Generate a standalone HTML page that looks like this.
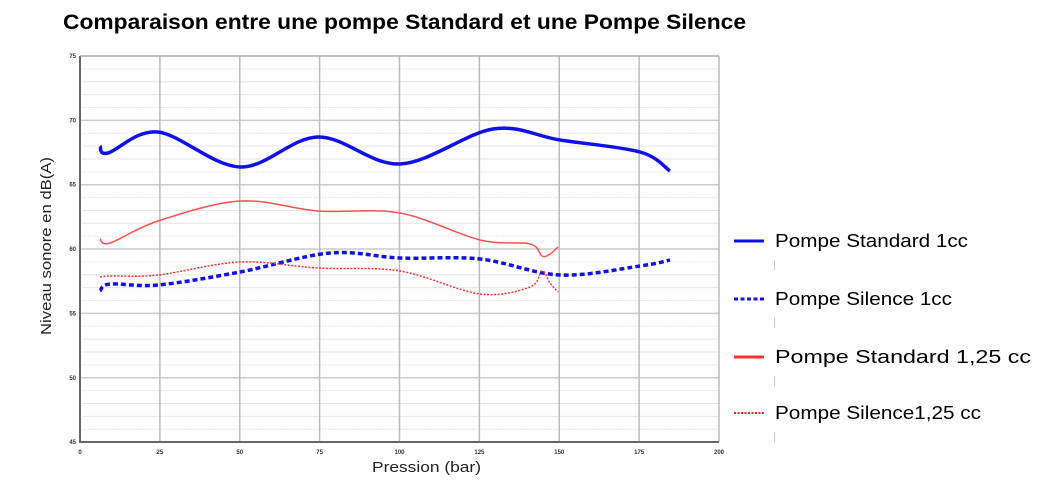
<!DOCTYPE html>
<html><head><meta charset="utf-8"><style>
body{margin:0;background:#fff;width:1054px;height:486px;overflow:hidden}
svg{display:block}
text{font-family:"Liberation Sans",sans-serif}
</style></head><body>
<svg id="s" width="1054" height="486" xmlns="http://www.w3.org/2000/svg">
<text x="63" y="29" font-size="21" font-weight="bold" fill="#000" textLength="683" lengthAdjust="spacingAndGlyphs">Comparaison entre une pompe Standard et une Pompe Silence</text>
<g id="grid"></g>
<line x1="80" y1="56" x2="80" y2="443" stroke="#666" stroke-width="2"/>
<line x1="79" y1="442" x2="719" y2="442" stroke="#666" stroke-width="2"/>
<line x1="80" y1="56" x2="719" y2="56" stroke="#999" stroke-width="1"/>
<line x1="719" y1="56" x2="719" y2="442" stroke="#999" stroke-width="1"/>
<g id="lines"></g>
<text x="372" y="472" font-size="15" fill="#222" textLength="109" lengthAdjust="spacingAndGlyphs">Pression (bar)</text>
<text transform="translate(51,335) rotate(-90)" font-size="15" fill="#222" textLength="178" lengthAdjust="spacingAndGlyphs">Niveau sonore en dB(A)</text>
<g font-size="18" fill="#000">
<line x1="734" y1="241" x2="764" y2="241" stroke="#1010ee" stroke-width="3"/>
<text x="775" y="247" textLength="193" lengthAdjust="spacingAndGlyphs">Pompe Standard 1cc</text>
<line x1="734" y1="299" x2="764" y2="299" stroke="#1010ee" stroke-width="3" stroke-dasharray="4,2.5"/>
<text x="775" y="305" textLength="177" lengthAdjust="spacingAndGlyphs">Pompe Silence 1cc</text>
<line x1="734" y1="357" x2="764" y2="357" stroke="#ff3030" stroke-width="3"/>
<text x="775" y="363" textLength="256" lengthAdjust="spacingAndGlyphs">Pompe Standard 1,25 cc</text>
<line x1="734" y1="413" x2="764" y2="413" stroke="#ff2020" stroke-width="2" stroke-dasharray="2,1.5"/>
<text x="775" y="419" textLength="206" lengthAdjust="spacingAndGlyphs">Pompe Silence1,25 cc</text>
</g>
<g stroke="#ccc" stroke-width="1">
<line x1="774.5" y1="260" x2="774.5" y2="270"/><line x1="774.5" y1="318" x2="774.5" y2="328"/>
<line x1="774.5" y1="376" x2="774.5" y2="386"/><line x1="774.5" y1="432" x2="774.5" y2="442"/>
</g>
</svg>
<script>
var NS="http://www.w3.org/2000/svg",g=document.getElementById('grid'),L=document.getElementById('lines');
function el(p,t,a){var e=document.createElementNS(NS,t);for(var k in a)e.setAttribute(k,a[k]);p.appendChild(e);return e;}
for(var v=45;v<=75;v++){var y=56+(75-v)*12.87;
 if(v%5==0){el(g,'line',{x1:80,x2:719,y1:y,y2:y,stroke:'#ccc','stroke-width':1.5});
  var t=el(g,'text',{x:76,y:y+2,'font-size':6,'text-anchor':'end',fill:'#333','font-weight':'bold'});t.textContent=v;}
 else el(g,'line',{x1:82,x2:719,y1:y,y2:y,stroke:'#e6e6e6','stroke-width':1,'stroke-dasharray':(v%5==1||v%5==4)?'2,1':''});}
for(var b=0;b<=200;b+=25){var x=80+b*3.195;
 if(b>0&&b<200)el(g,'line',{x1:x,x2:x,y1:56,y2:442,stroke:'#bbb','stroke-width':1.5});
 var t=el(g,'text',{x:x,y:454,'font-size':6,'text-anchor':'middle',fill:'#333','font-weight':'bold'});t.textContent=b;}
function cr(p){var d='M'+p[0][0]+','+p[0][1];for(var i=0;i<p.length-1;i++){var p0=p[i-1]||p[i],p1=p[i],p2=p[i+1],p3=p[i+2]||p2;
 d+=' C'+(p1[0]+(p2[0]-p0[0])/6)+','+(p1[1]+(p2[1]-p0[1])/6)+' '+(p2[0]-(p3[0]-p1[0])/6)+','+(p2[1]-(p3[1]-p1[1])/6)+' '+p2[0]+','+p2[1];}return d;}
var S=[
 [[[100,146],[108,153],[158,132],[240,167],[318,137],[400,164],[493,129],[560,140],[640,152],[670,171]],'#1010ee',3.5,''],
 [[[100,291],[110,284],[158,285],[240,272],[330,253],[400,258],[480,259],[560,275],[640,266],[670,260]],'#1010ee',3.5,'5,3'],
 [[[100,239],[110,243],[158,221],[240,201],[318,211],[400,213],[480,240],[530,244],[542,256],[550,254],[558,247]],'#ff5050',1.5,''],
 [[[100,277],[110,276],[158,275],[240,262],[318,268],[400,271],[480,294],[530,287],[542,271],[550,283],[558,292]],'#ff3030',1.5,'2,1.5']];
S.forEach(function(s){el(L,'path',{d:cr(s[0]),fill:'none',stroke:s[1],'stroke-width':s[2],'stroke-dasharray':s[3]});});
</script>
</body></html>
